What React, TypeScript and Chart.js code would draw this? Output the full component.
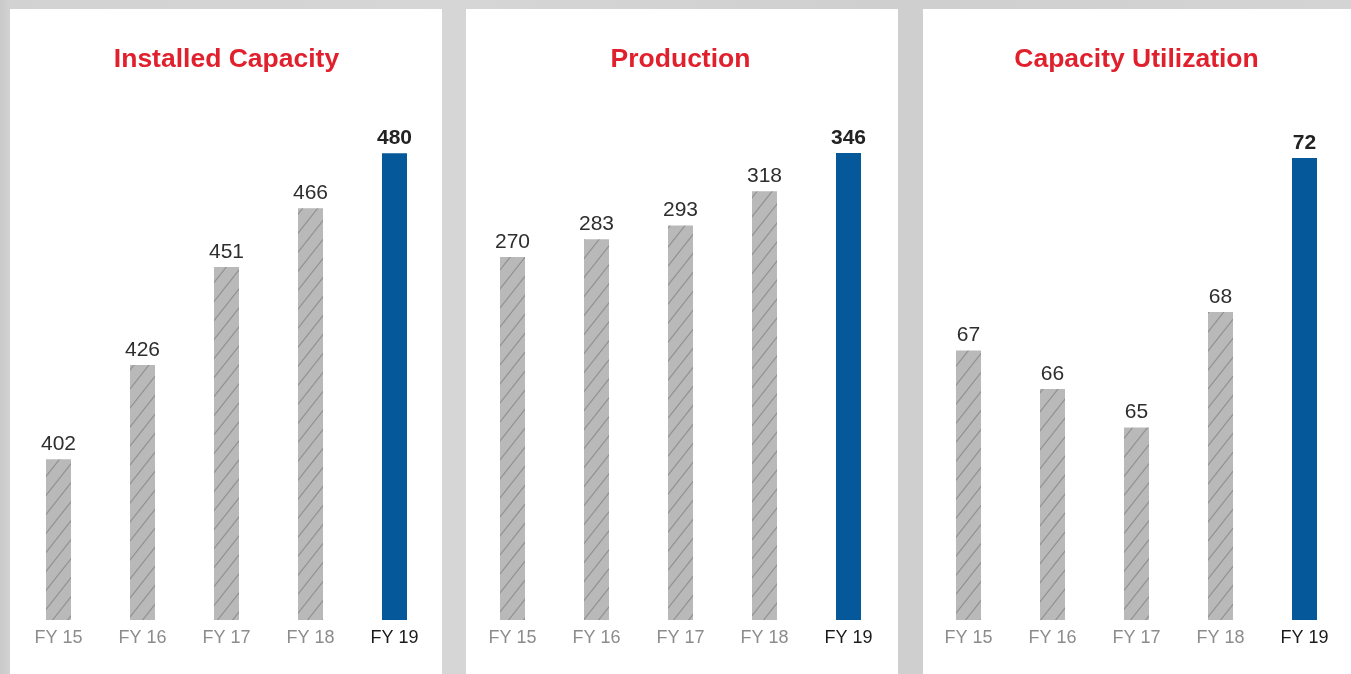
import React, { useEffect, useRef } from 'react';
import { Chart, registerables } from 'chart.js';

Chart.register(...registerables);

// ---- data ----
const categories = ['FY 15', 'FY 16', 'FY 17', 'FY 18', 'FY 19'];
const installedCapacity = [402, 426, 451, 466, 480];
const production = [270, 283, 293, 318, 346];
const capacityUtilization = [67, 66, 65, 68, 72];
const panelTitles = ['Installed Capacity', 'Production', 'Capacity Utilization'];
const axisMins = [361, 4.7, 60];
const axisMaxs = [491.3, 378.1, 73.27];

const FONT = "'Liberation Sans', Arial, Helvetica, sans-serif";
const RED = '#e1202e';
const BLUE = '#05589a';

const seriesList = [installedCapacity, production, capacityUtilization];

const panels = [
  { left: 10, width: 432, padLeft: 6.5 },
  { left: 466, width: 432, padLeft: 4.5 },
  { left: 923, width: 428, padLeft: 3.5 },
];

function makeHatch(): CanvasPattern | string {
  const w = 15;
  const h = 19;
  const c = document.createElement('canvas');
  c.width = w;
  c.height = h;
  const ctx = c.getContext('2d');
  if (!ctx) return '#b9b9b9';
  ctx.fillStyle = '#b9b9b9';
  ctx.fillRect(0, 0, w, h);
  ctx.strokeStyle = '#929292';
  ctx.lineWidth = 1.2;
  for (const k of [-1, 0, 1]) {
    const ox = k * w;
    ctx.beginPath();
    ctx.moveTo(ox - 2, h + (2 * h) / w);
    ctx.lineTo(ox + w + 2, -(2 * h) / w);
    ctx.stroke();
  }
  const p = ctx.createPattern(c, 'repeat');
  return p || '#b9b9b9';
}

const valueLabelPlugin = {
  id: 'valueLabels',
  afterDatasetsDraw(chart: any) {
    const ctx = chart.ctx;
    const meta = chart.getDatasetMeta(0);
    const data = chart.data.datasets[0].data;
    ctx.save();
    ctx.textAlign = 'center';
    ctx.textBaseline = 'alphabetic';
    meta.data.forEach((bar: any, i: number) => {
      const last = i === data.length - 1;
      ctx.font = `${last ? 'bold ' : ''}21px ${FONT}`;
      ctx.fillStyle = last ? '#222222' : '#2e2e2e';
      ctx.fillText(String(data[i]), bar.x, bar.y - 9);
    });
    ctx.restore();
  },
};

function Panel({ index }: { index: number }) {
  const ref = useRef<HTMLCanvasElement | null>(null);
  const panel = panels[index];
  const canvasH = 665;

  useEffect(() => {
    if (!ref.current) return;
    const hatch = makeHatch();
    const values = seriesList[index];
    const colors = values.map((_, i) => (i === values.length - 1 ? BLUE : hatch));
    const padRight = panel.width - panel.padLeft - 420;
    const chart = new Chart(ref.current, {
      type: 'bar',
      data: {
        labels: categories,
        datasets: [
          {
            data: values,
            backgroundColor: colors as any,
            borderWidth: 0,
            barPercentage: 25 / 84,
            categoryPercentage: 1,
          },
        ],
      },
      options: {
        responsive: false,
        animation: false,
        layout: {
          padding: { top: 0, bottom: 18.4, left: panel.padLeft, right: padRight },
        },
        plugins: {
          legend: { display: false },
          tooltip: { enabled: false },
          title: {
            display: true,
            text: panelTitles[index],
            color: RED,
            font: { family: FONT, size: 26.5, weight: 'bold', lineHeight: 1.2 },
            padding: { top: 34.8, bottom: 33.4 },
          },
        },
        scales: {
          x: {
            grid: { display: false, drawTicks: false },
            border: { display: false },
            ticks: {
              padding: 7,
              maxRotation: 0,
              autoSkip: false,
              font: { family: FONT, size: 18, lineHeight: 1.2 },
              color: (c: any) => (c.index === categories.length - 1 ? '#1a1a1a' : '#8c8c8c'),
            },
          },
          y: {
            display: false,
            min: axisMins[index],
            max: axisMaxs[index],
          },
        },
      },
      plugins: [valueLabelPlugin],
    });
    return () => chart.destroy();
  }, [index]);

  return (
    <div
      style={{
        position: 'absolute',
        left: panel.left,
        top: 9,
        width: panel.width,
        height: canvasH,
        background: '#ffffff',
      }}
    >
      <canvas
        ref={ref}
        width={panel.width}
        height={canvasH}
        style={{ display: 'block', width: panel.width, height: canvasH }}
      />
    </div>
  );
}

export default function App() {
  useEffect(() => {
    document.body.style.margin = '0';
  }, []);
  return (
    <div
      style={{
        position: 'fixed',
        left: 0,
        top: 0,
        width: 1351,
        height: 674,
        overflow: 'hidden',
        background: 'linear-gradient(90deg, #c9c9c9 0px, #d2d2d2 10px, #d6d6d6 450px, #cfcfcf 900px, #d4d4d4 1351px)',
      }}
    >
      <Panel index={0} />
      <Panel index={1} />
      <Panel index={2} />
    </div>
  );
}
